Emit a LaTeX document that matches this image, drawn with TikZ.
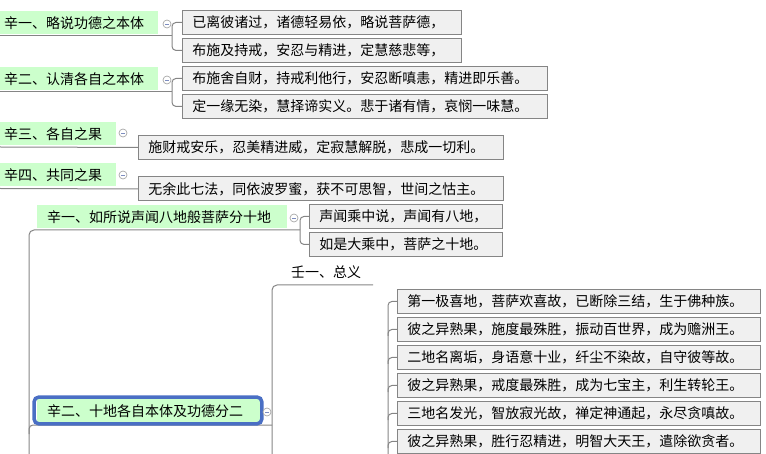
\documentclass[tikz,border=0pt]{standalone}
\usepackage{fontspec}
\newfontfamily\cjk{Noto Sans CJK SC}
\definecolor{greenfill}{HTML}{CCFFCC}
\definecolor{boxfill}{HTML}{F0F0F0}
\definecolor{boxgray}{HTML}{858585}
\definecolor{linegray}{HTML}{858585}
\definecolor{selblue}{HTML}{4A6FC4}
\definecolor{toggray}{HTML}{A8A8A8}
\definecolor{togminus}{HTML}{7D8DC0}
\begin{document}
\begin{tikzpicture}[x=1pt,y=-1pt,
  font=\cjk\fontsize{14pt}{16pt}\selectfont,
  conn/.style={draw=linegray, line width=1pt},
  leaf/.style={draw=boxgray, fill=boxfill, line width=0.9pt, anchor=north west,
    minimum height=24pt, inner xsep=10pt, inner ysep=0pt, align=left},
  grn/.style={fill=greenfill, anchor=north west, minimum height=23pt,
    inner ysep=0pt, align=left},
  tog/.style={circle, draw=toggray, fill=white, line width=0.7pt, minimum size=8pt,
    inner sep=0pt, path picture={\draw[togminus, line width=0.7pt]
      ([xshift=-2pt]path picture bounding box.center) --
      ([xshift=2pt]path picture bounding box.center);}},
  plain/.style={anchor=west, inner sep=0pt}]
\useasboundingbox (0,0) rectangle (766,454);
\clip (0,0) rectangle (766,454);

% ---------- upper part ----------
\node[grn, inner xsep=4pt, text width=150pt] (g1) at (0,11) {辛一、略说功德之本体};
\node[leaf, text width=259pt] (b1) at (182,10) {已离彼诸过，诸德轻易依，略说菩萨德，};
\node[leaf, text width=259pt] (b2) at (182,38) {布施及持戒，安忍与精进，定慧慈悲等，};
\coordinate (u1) at (0,36);
\coordinate (j1) at (172,36);
\draw[conn] (u1) -- (j1);
\draw[conn, rounded corners=4pt] (b1.west) -| (j1) |- (b2.west);
\node[tog] (tg1) at (167,24) {};

\node[grn, inner xsep=4pt, text width=150pt] (g2) at (0,67) {辛二、认清各自之本体};
\node[leaf, text width=345pt] (b3) at (182,66) {布施舍自财，持戒利他行，安忍断嗔恚，精进即乐善。};
\node[leaf, text width=345pt] (b4) at (182,94) {定一缘无染，慧择谛实义。悲于诸有情，哀悯一味慧。};
\coordinate (u2) at (0,92);
\coordinate (j2) at (172,92);
\draw[conn] (u2) -- (j2);
\draw[conn, rounded corners=4pt] (b3.west) -| (j2) |- (b4.west);
\node[tog] (tg2) at (167,80) {};

\node[grn, inner xsep=4pt, text width=108pt] (g3) at (0,122) {辛三、各自之果};
\node[leaf, text width=345pt] (b5) at (138,135) {施财戒安乐，忍美精进威，定寂慧解脱，悲成一切利。};
\coordinate (u3) at (0,147);
\draw[conn] (u3) -- (b5.west);
\node[tog] (tg3) at (123,133) {};

\node[grn, inner xsep=4pt, text width=108pt] (g4) at (0,163) {辛四、共同之果};
\node[leaf, text width=345pt] (b6) at (138,176.5) {无余此七法，同依波罗蜜，获不可思智，世间之怙主。};
\coordinate (u4) at (0,188.5);
\draw[conn] (u4) -- (b6.west);
\node[tog] (tg4) at (123,175) {};

% ---------- lower part ----------
\coordinate (s1) at (29,460);
\coordinate (j5) at (300,230);
\draw[conn, rounded corners=5pt] (s1) |- (j5);
\node[grn, inner xsep=10pt, text width=230pt] (g5) at (37,205) {辛一、如所说声闻八地般菩萨分十地};
\node[leaf, text width=173pt] (b7) at (309,204) {声闻乘中说，声闻有八地，};
\node[leaf, text width=173pt] (b8) at (309,232) {如是大乘中，菩萨之十地。};
\draw[conn, rounded corners=4pt] (b7.west) -| (j5) |- (b8.west);
\node[tog] (tg5) at (294,218) {};

% spine 2 and 壬一
\coordinate (s2) at (272,460);
\coordinate (u7) at (373,285);
\draw[conn, rounded corners=5pt] (s2) |- (u7);
\node[plain] (t7) at (291,272) {壬一、总义};

% g6 branch
\coordinate (s1b) at (29,434);
\coordinate (j6) at (272,425);
\draw[conn, rounded corners=4pt] (s1b) |- (j6);

% right boxes
\node[leaf, text width=343pt] (b9)  at (397,289) {第一极喜地，菩萨欢喜故，已断除三结，生于佛种族。};
\node[leaf, text width=343pt] (b10) at (397,317) {彼之异熟果，施度最殊胜，振动百世界，成为赡洲王。};
\node[leaf, text width=343pt] (b11) at (397,345) {二地名离垢，身语意十业，纤尘不染故，自守彼等故。};
\node[leaf, text width=343pt] (b12) at (397,373) {彼之异熟果，戒度最殊胜，成为七宝主，利生转轮王。};
\node[leaf, text width=343pt] (b13) at (397,401) {三地名发光，智放寂光故，禅定神通起，永尽贪嗔故。};
\node[leaf, text width=343pt] (b14) at (397,429) {彼之异熟果，胜行忍精进，明智大天王，遣除欲贪者。};
\coordinate (s3) at (388,460);
\draw[conn, rounded corners=4pt] (s3) |- (b9.west);
\coordinate (k10) at (388,336);
\coordinate (k11) at (388,364);
\coordinate (k12) at (388,392);
\coordinate (k13) at (388,420);
\coordinate (k14) at (388,448);
\foreach \k in {10,...,14} {
  \draw[conn, rounded corners=4pt] (k\k) |- (b\k.west);
}

% selected node
\node[grn, inner xsep=10pt, text width=203pt] (g6) at (37,399) {辛二、十地各自本体及功德分二};
\draw[selblue, line width=3.5pt, rounded corners=5pt]
  ([shift={(-3,-2)}]g6.north west) rectangle ([shift={(1.5,1.5)}]g6.south east);
\node[tog] (tg6) at (267,412) {};
\end{tikzpicture}
\end{document}
